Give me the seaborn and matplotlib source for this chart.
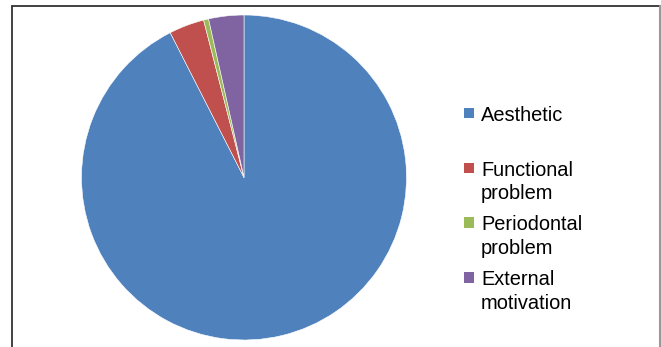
import matplotlib
matplotlib.use("Agg")
import matplotlib.pyplot as plt
from matplotlib.patches import Rectangle
from matplotlib.lines import Line2D
import seaborn as sns

# Reasons for seeking treatment (number of patients)
categories = ["Aesthetic", "Functional\nproblem", "Periodontal\nproblem", "External\nmotivation"]
counts = [185, 7, 1, 7]
colors = ["#4F81BD", "#C0504D", "#9BBB59", "#8064A2"]

sns.set_style("white")
plt.rcParams["font.family"] = ["Liberation Sans", "DejaVu Sans"]

W, H = 661, 347
fig = plt.figure(figsize=(W / 100, H / 100), dpi=100)
fig.patch.set_facecolor("white")

# pie area: centre (244, 177.5) px, radius 162.5 px
cx, cy, r = 244, 177.5, 162.5
ax = fig.add_axes([(cx - r) / W, (H - cy - r) / H, 2 * r / W, 2 * r / H])
ax.pie(counts, colors=colors, startangle=90, counterclock=False, radius=1,
       wedgeprops=dict(edgecolor="white", linewidth=0.4))
ax.set_xlim(-1, 1)
ax.set_ylim(-1, 1)
ax.set_aspect("equal")
ax.axis("off")

# chart frame (top, left dark; right grey)
def px(x, y):
    return x / W, 1 - y / H

fig.add_artist(Line2D([12 / W, 660 / W], [1 - 6 / H, 1 - 6 / H],
                      color="#333333", linewidth=1.3, transform=fig.transFigure))
fig.add_artist(Line2D([12 / W, 12 / W], [1 - 6 / H, 0],
                      color="#333333", linewidth=1.3, transform=fig.transFigure))
fig.add_artist(Line2D([660 / W, 660 / W], [1 - 6 / H, 0],
                      color="#999999", linewidth=1.5, transform=fig.transFigure))

# legend
sq_x, sq_size = 463.5, 10.5
text_x = 481
first_center = 113.2
entry_step = 54.7
line_step = 23.5
for i, (label, col) in enumerate(zip(categories, colors)):
    c = first_center + i * entry_step
    fig.add_artist(Rectangle(((sq_x) / W, 1 - (c + sq_size / 2) / H),
                             sq_size / W, sq_size / H, facecolor=col,
                             edgecolor="none", transform=fig.transFigure))
    base = c + 7.8
    for j, line in enumerate(label.split("\n")):
        fig.text(text_x / W, 1 - (base + j * line_step) / H, line,
                 fontsize=14.4, color="black", va="baseline", ha="left")

fig.savefig("out.png", dpi=100, facecolor="white")
